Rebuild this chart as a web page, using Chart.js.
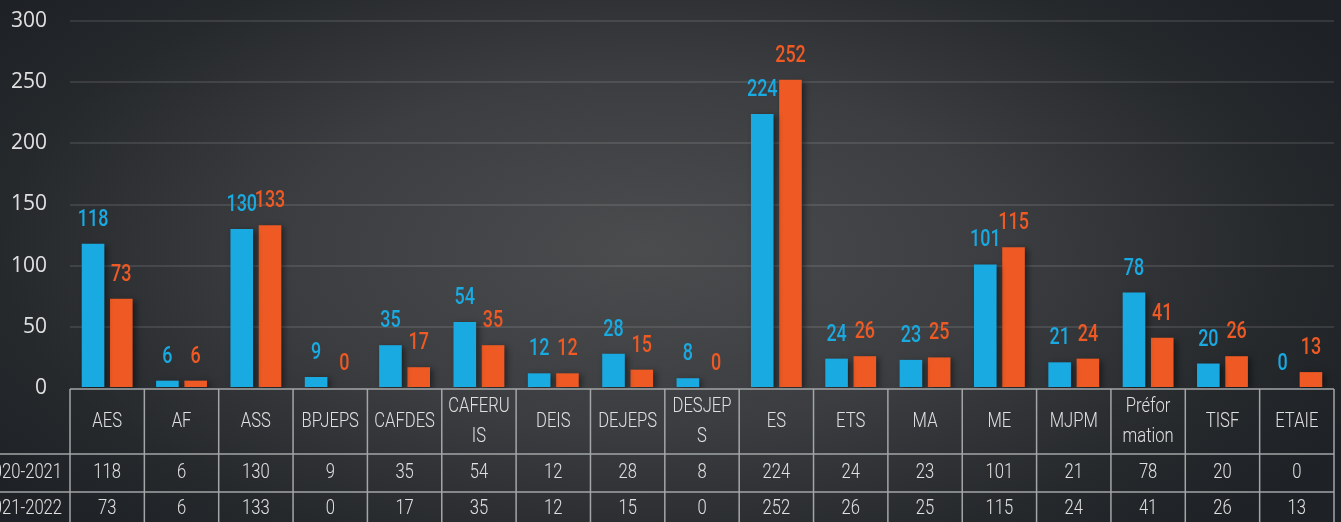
<!DOCTYPE html>
<html>
<head>
<meta charset="utf-8">
<script src="https://cdn.jsdelivr.net/npm/chart.js@4/dist/chart.umd.min.js"></script>
<style>
  html, body { margin: 0; padding: 0; }
  body {
    width: 1341px; height: 522px; overflow: hidden;
    background: radial-gradient(ellipse 60% 75% at 48% 48%, #4b4c4e 0%, #3b3d40 45%, #26292c 80%, #1e2125 100%);
  }
  #wrap { position: relative; width: 1341px; height: 522px; }
  canvas { display: block; }
</style>
</head>
<body>
<div id="wrap"><canvas id="chart" width="1341" height="522"></canvas></div>
<script>
const categories = [
  ['AES'], ['AF'], ['ASS'], ['BPJEPS'], ['CAFDES'], ['CAFERU', 'IS'], ['DEIS'],
  ['DEJEPS'], ['DESJEP', 'S'], ['ES'], ['ETS'], ['MA'], ['ME'], ['MJPM'],
  ['Préfor', 'mation'], ['TISF'], ['ETAIE']
];
const seriesNames = ['2020-2021', '2021-2022'];
const values2021 = [118, 6, 130, 9, 35, 54, 12, 28, 8, 224, 24, 23, 101, 21, 78, 20, 0];
const values2022 = [73, 6, 133, 0, 17, 35, 12, 15, 0, 252, 26, 25, 115, 24, 41, 26, 13];
const yTicks = [0, 50, 100, 150, 200, 250, 300];

const blue = '#1aaae2';
const orange = '#ef5a24';

// draws text squeezed horizontally, to mimic the condensed font of the original
function narrowText(ctx, text, x, y, squeeze) {
  ctx.save();
  ctx.translate(x, y);
  ctx.scale(squeeze, 1);
  ctx.fillText(text, 0, 0);
  ctx.restore();
}

// shadow under the bars
const barShadow = {
  id: 'barShadow',
  beforeDatasetsDraw(chart) {
    const ctx = chart.ctx;
    ctx.save();
    ctx.shadowColor = 'rgba(0,0,0,0.45)';
    ctx.shadowBlur = 6;
    ctx.shadowOffsetX = 3;
    ctx.shadowOffsetY = 2;
  },
  afterDatasetsDraw(chart) {
    chart.ctx.restore();
  }
};

// value labels above bars
const valueLabels = {
  id: 'valueLabels',
  afterDatasetsDraw(chart) {
    const ctx = chart.ctx;
    ctx.save();
    ctx.font = '500 23px Roboto, sans-serif';
    ctx.textAlign = 'center';
    ctx.textBaseline = 'alphabetic';
    chart.data.datasets.forEach((ds, i) => {
      const meta = chart.getDatasetMeta(i);
      ctx.fillStyle = ds.backgroundColor;
      meta.data.forEach((bar, j) => {
        narrowText(ctx, String(ds.data[j]), bar.x, bar.y - 18, 0.78);
      });
    });
    ctx.restore();
  }
};

// data table under the plot
const dataTable = {
  id: 'dataTable',
  afterDraw(chart) {
    const ctx = chart.ctx;
    const xs = chart.scales.x;
    const area = chart.chartArea;
    const n = categories.length;
    const colW = (area.right - area.left) / n;
    const top = area.bottom + 1;
    const rows = [top, top + 65, top + 103, top + 141];
    ctx.save();
    ctx.strokeStyle = '#a3a5a7';
    ctx.lineWidth = 1.5;
    ctx.beginPath();
    // horizontal lines
    ctx.moveTo(area.left, rows[0]); ctx.lineTo(area.right, rows[0]);
    ctx.moveTo(0, rows[1]); ctx.lineTo(area.right, rows[1]);
    ctx.moveTo(0, rows[2]); ctx.lineTo(area.right, rows[2]);
    // vertical lines
    for (let i = 0; i <= n; i++) {
      const x = area.left + i * colW;
      ctx.moveTo(x, rows[0]); ctx.lineTo(x, rows[3]);
    }
    ctx.stroke();

    ctx.fillStyle = '#e0e0e0';
    ctx.font = '300 20px Roboto, sans-serif';
    ctx.textAlign = 'center';
    ctx.textBaseline = 'middle';
    const sq = 0.83;
    categories.forEach((lines, i) => {
      const x = xs.getPixelForValue(i);
      const cy = (rows[0] + rows[1]) / 2;
      const lh = 30;
      lines.forEach((t, k) => {
        narrowText(ctx, t, x, cy + (k - (lines.length - 1) / 2) * lh, sq);
      });
      narrowText(ctx, String(values2021[i]), x, (rows[1] + rows[2]) / 2, sq);
      narrowText(ctx, String(values2022[i]), x, rows[2] + 17, sq);
    });
    ctx.textAlign = 'right';
    narrowText(ctx, seriesNames[0], area.left - 8, (rows[1] + rows[2]) / 2, sq);
    narrowText(ctx, seriesNames[1], area.left - 8, rows[2] + 17, sq);
    ctx.restore();
  }
};

new Chart(document.getElementById('chart'), {
  type: 'bar',
  data: {
    labels: categories.map(c => c.join('')),
    datasets: [
      { label: seriesNames[0], data: values2021, backgroundColor: blue },
      { label: seriesNames[1], data: values2022, backgroundColor: orange }
    ]
  },
  options: {
    responsive: false,
    animation: false,
    devicePixelRatio: 1,
    layout: { padding: { top: 21, right: 7, bottom: 134, left: 0 } },
    datasets: {
      bar: { categoryPercentage: 0.76, barPercentage: 0.8 }
    },
    plugins: {
      legend: { display: false },
      tooltip: { enabled: false }
    },
    scales: {
      x: {
        display: false
      },
      y: {
        min: 0,
        max: 300,
        afterBuildTicks(scale) {
          scale.ticks = yTicks.map(v => ({ value: v }));
        },
        afterFit(scale) {
          scale.width = 70;
          scale.paddingTop = 0;
          scale.paddingBottom = 0;
        },
        border: { display: false },
        grid: {
          drawTicks: false,
          lineWidth: 2,
          color: ctx => ctx.tick && ctx.tick.value === 0 ? 'rgba(0,0,0,0)' : 'rgba(255,255,255,0.1)'
        },
        ticks: {
          padding: 23,
          color: '#e0e0e0',
          font: { family: '"Open Sans", sans-serif', size: 21 }
        }
      }
    }
  },
  plugins: [barShadow, valueLabels, dataTable]
});
</script>
</body>
</html>
